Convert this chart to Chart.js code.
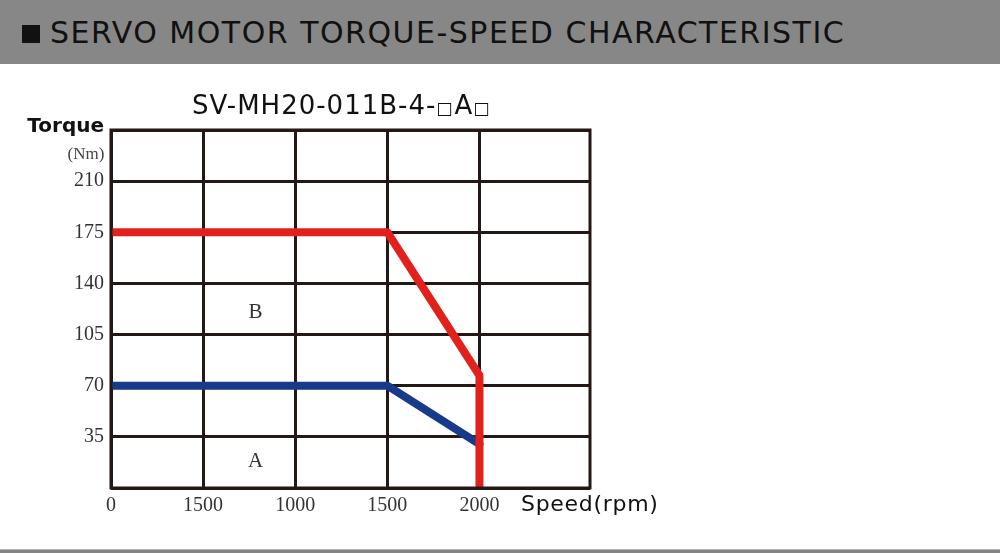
<!DOCTYPE html>
<html>
<head>
<meta charset="utf-8">
<script src="https://cdn.jsdelivr.net/npm/chart.js@4.4.1/dist/chart.umd.min.js"></script>
<style>
  html, body { margin: 0; padding: 0; background: #fff; }
  body { width: 1000px; height: 553px; position: relative; overflow: hidden; }
  #header {
    position: absolute; left: 0; top: 0; width: 1000px; height: 64px;
    background: #878787; color: #111;
    font-family: "DejaVu Sans", Verdana, sans-serif; font-size: 30px;
    line-height: 64px; white-space: nowrap; letter-spacing: 1.5px;
  }
  #header .sq { position: absolute; left: 22px; top: 25px; width: 18px; height: 18px; background: #111; }
  #header .txt { position: absolute; left: 50px; top: 1px; }
  #footer { position: absolute; left: 0; top: 549px; width: 1000px; height: 4px; background: #858585; border-top: 1px solid #b5b5b5; }
  #wrap { position: absolute; left: 0; top: 0; width: 1000px; height: 553px; }
</style>
</head>
<body>
<div id="header"><div class="sq"></div><div class="txt">SERVO MOTOR TORQUE-SPEED CHARACTERISTIC</div></div>
<div id="footer"></div>
<div id="wrap"><canvas id="chart" width="1000" height="553"></canvas></div>
<script>
// x axis positions are grid columns, labelled as printed on the original
const speedLabels = ['0', '1500', '1000', '1500', '2000'];
const torqueTicks = [35, 70, 105, 140, 175, 210];

// red curve (B)
const redX = [0, 3, 4, 4];
const redY = [175, 175, 77, 0];
// blue curve (A)
const blueX = [0, 3, 4];
const blueY = [70, 70, 30];

// region labels
const regionText = ['B', 'A'];
const regionX = [1.57, 1.57];
const regionY = [120, 18];

// model name, boxes drawn smaller than the letters
const titleParts = ['SV-MH20-011B-4-', '\u25A1', 'A', '\u25A1'];

const gridColor = '#231815';
const sans = '"DejaVu Sans", Verdana, sans-serif';
const serif = '"Liberation Serif", "Times New Roman", serif';

const framePlugin = {
    id: 'frame',
    afterDatasetsDraw(chart) {
        const ctx = chart.ctx;
        const a = chart.chartArea;
        const xs = chart.scales.x, ys = chart.scales.y;
        ctx.save();
        ctx.strokeStyle = gridColor;
        ctx.lineWidth = 3;
        ctx.strokeRect(a.left, a.top, a.right - a.left, a.bottom - a.top);

        ctx.fillStyle = '#333';
        ctx.font = '21px ' + serif;
        ctx.textAlign = 'center';
        ctx.textBaseline = 'middle';
        regionText.forEach((t, i) => {
            ctx.fillText(t, xs.getPixelForValue(regionX[i]), ys.getPixelForValue(regionY[i]));
        });

        // title
        ctx.fillStyle = '#111';
        ctx.textAlign = 'left';
        ctx.textBaseline = 'alphabetic';
        ctx.letterSpacing = '1px';
        let tx = 192;
        titleParts.forEach(p => {
            ctx.font = (p === '\u25A1' ? '17px ' : '26px ') + sans;
            ctx.fillText(p, tx, 114);
            tx += ctx.measureText(p).width + (p === '\u25A1' ? 1 : 0);
        });

        ctx.textBaseline = 'middle';
        ctx.letterSpacing = '0px';
        ctx.font = 'bold 20px ' + sans;
        ctx.textAlign = 'right';
        ctx.fillText('Torque', 104, 127);
        ctx.textAlign = 'left';
        ctx.font = '22px ' + sans;
        ctx.letterSpacing = '0.7px';
        ctx.fillText('Speed(rpm)', 521, 505);
        ctx.letterSpacing = '0px';

        ctx.fillStyle = '#444';
        ctx.font = '17px ' + serif;
        ctx.textAlign = 'center';
        ctx.fillText('(Nm)', 86, 155);
        ctx.restore();
    }
};

new Chart(document.getElementById('chart'), {
    type: 'line',
    data: {
        datasets: [
            {
                label: 'B',
                data: redX.map((x, i) => ({ x: x, y: redY[i] })),
                borderColor: '#e3211c',
                borderWidth: 8,
                borderCapStyle: 'round',
                borderJoinStyle: 'round',
                pointRadius: 0,
                tension: 0
            },
            {
                label: 'A',
                data: blueX.map((x, i) => ({ x: x, y: blueY[i] })),
                borderColor: '#183a8a',
                borderWidth: 8,
                borderCapStyle: 'round',
                borderJoinStyle: 'round',
                pointRadius: 0,
                tension: 0
            }
        ]
    },
    options: {
        responsive: false,
        animation: false,
        layout: { padding: { left: 0, top: 130, right: 410, bottom: 0 } },
        plugins: { legend: { display: false }, tooltip: { enabled: false } },
        scales: {
            x: {
                type: 'linear',
                min: 0,
                max: 5.2,
                afterBuildTicks: s => { s.ticks = speedLabels.map((_, i) => ({ value: i })); },
                afterFit: s => { s.height = 65; },
                grid: { color: gridColor, lineWidth: 3, drawTicks: false },
                border: { display: false },
                ticks: {
                    padding: 6,
                    color: '#333',
                    font: { family: serif, size: 20 },
                    callback: v => speedLabels[v] ?? ''
                }
            },
            y: {
                min: 0,
                max: 245,
                afterBuildTicks: s => { s.ticks = [0].concat(torqueTicks, [245]).map(v => ({ value: v })); },
                afterFit: s => { s.width = 111; },
                grid: { color: gridColor, lineWidth: 3, drawTicks: false },
                border: { display: false },
                ticks: {
                    padding: 7,
                    color: '#333',
                    font: { family: serif, size: 20 },
                    callback: v => torqueTicks.includes(v) ? String(v) : ''
                }
            }
        }
    },
    plugins: [framePlugin]
});
</script>
</body>
</html>
